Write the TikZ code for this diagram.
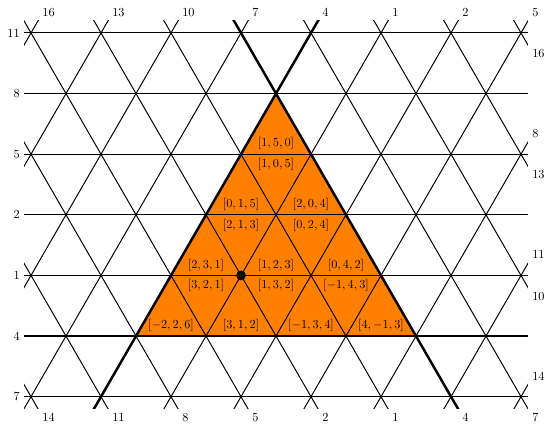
\documentclass[tikz,border=0pt]{standalone}
\begin{document}
\begin{tikzpicture}[x=2cm,y=2cm,
  gridline/.style={line width=0.8pt},
  boldline/.style={line width=2pt},
  numlbl/.style={inner sep=3.33pt, font=\normalsize},
  trilbl/.style={inner sep=3.33pt, font=\normalsize}]
\def\h{0.8660254}
\useasboundingbox (-0.443,-0.386) rectangle (7.343,5.667);
% orange triangle
\coordinate (A) at (3.5,5*\h);
\coordinate (B) at (1.5,\h);
\coordinate (C) at (5.5,\h);
\fill[orange] (A) -- (B) -- (C) -- cycle;
\begin{scope}
  \clip (-0.1,-0.2*\h) rectangle (7.1,6.2*\h);
  \foreach \k in {0,...,6} \draw[gridline] (-0.1,\k*\h) -- (7.1,\k*\h);
  \foreach \c in {-3,...,7} \draw[gridline] (\c-0.5,-\h) -- (\c+4,8*\h);
  \foreach \d in {0,...,10} \draw[gridline] (\d+0.5,-\h) -- (\d-4,8*\h);
  \draw[boldline] (-0.1,\h) -- (7.1,\h);
  \draw[boldline] (0.5,-\h) -- (5,8*\h);
  \draw[boldline] (6.5,-\h) -- (2,8*\h);
\end{scope}
\fill (3,2*\h) circle (0.07);
% top labels
\foreach \n [count=\j from 0] in {16,13,10,7,4,1,2,5}
  \node[numlbl, above right] (t\j) at (\j+0.1,6.2*\h) {\n};
% bottom labels
\foreach \n [count=\j from 0] in {14,11,8,5,2,1,4,7}
  \node[numlbl, below right] (b\j) at (\j+0.1,-0.2*\h) {\n};
% left labels
\foreach \n [count=\k from 0] in {7,4,1,2,5,8,11}
  \node[numlbl, left] (l\k) at (-0.1,\k*\h) {\n};
% right labels
\node[numlbl, below right] (r1) at (7.1,5.8*\h) {16};
\node[numlbl, above right] (r2) at (7.1,4.2*\h) {8};
\node[numlbl, below right] (r3) at (7.1,3.8*\h) {13};
\node[numlbl, above right] (r4) at (7.1,2.2*\h) {11};
\node[numlbl, below right] (r5) at (7.1,1.8*\h) {10};
\node[numlbl, above right] (r6) at (7.1,0.2*\h) {14};
% triangle labels
\node[trilbl, above] (p1) at (3.5,4*\h) {$[1,5,0]$};
\node[trilbl, below] (p2) at (3.5,4*\h) {$[1,0,5]$};
\node[trilbl, above] (p3) at (3,3*\h) {$[0,1,5]$};
\node[trilbl, above] (p4) at (4,3*\h) {$[2,0,4]$};
\node[trilbl, below] (p5) at (3,3*\h) {$[2,1,3]$};
\node[trilbl, below] (p6) at (4,3*\h) {$[0,2,4]$};
\node[trilbl, above] (p7) at (2.5,2*\h) {$[2,3,1]$};
\node[trilbl, above] (p8) at (3.5,2*\h) {$[1,2,3]$};
\node[trilbl, above] (p9) at (4.5,2*\h) {$[0,4,2]$};
\node[trilbl, below] (p10) at (2.5,2*\h) {$[3,2,1]$};
\node[trilbl, below] (p11) at (3.5,2*\h) {$[1,3,2]$};
\node[trilbl, below] (p12) at (4.5,2*\h) {$[-1,4,3]$};
\node[trilbl, above] (p13) at (2,\h) {$[-2,2,6]$};
\node[trilbl, above] (p14) at (3,\h) {$[3,1,2]$};
\node[trilbl, above] (p15) at (4,\h) {$[-1,3,4]$};
\node[trilbl, above] (p16) at (5,\h) {$[4,-1,3]$};
\end{tikzpicture}
\end{document}
